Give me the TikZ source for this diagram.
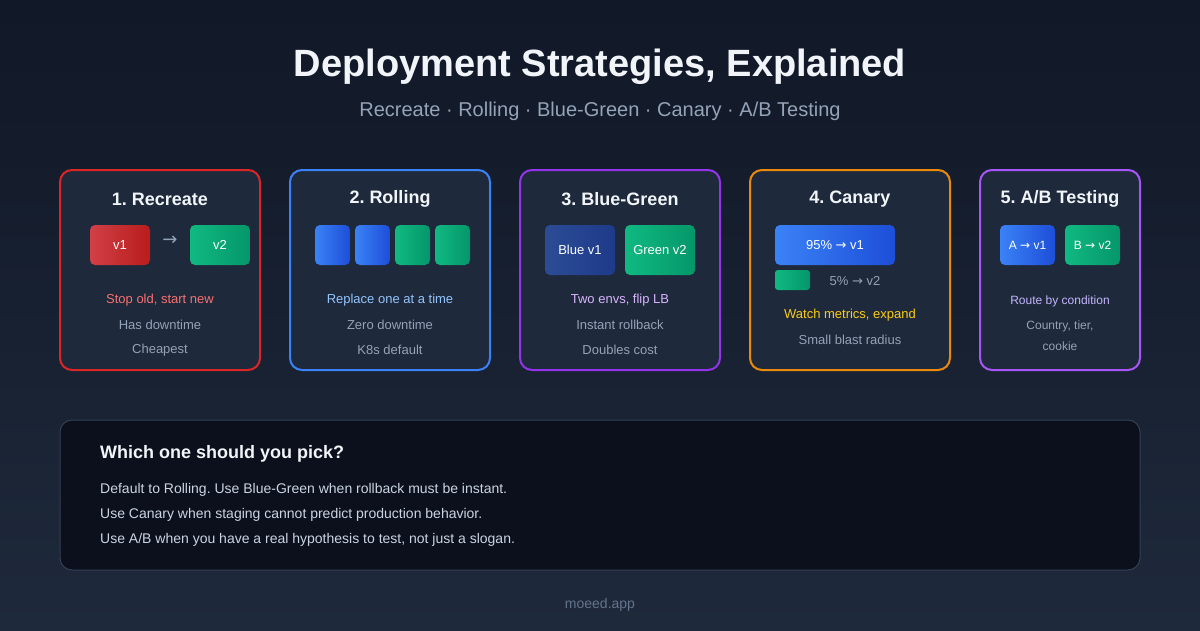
\documentclass[tikz,border=0pt]{standalone}
\usepackage{fontspec}
\setmainfont{Liberation Sans}
\newfontfamily\arr{DejaVu Sans}
\frenchspacing
\definecolor{cardbg}{HTML}{1E293B}
\definecolor{titlec}{HTML}{F1F5F9}
\definecolor{greyc}{HTML}{94A3B8}
\definecolor{redc}{HTML}{DC2626}
\definecolor{bluec}{HTML}{3B82F6}
\definecolor{purc}{HTML}{9333EA}
\definecolor{orc}{HTML}{EA8A0C}
\definecolor{purc2}{HTML}{A855F7}
\definecolor{bgtop}{HTML}{111827}
\definecolor{bgbot}{HTML}{1E293B}
\definecolor{redA}{HTML}{D04046}
\definecolor{redB}{HTML}{B91C1C}
\definecolor{grA}{HTML}{10B981}
\definecolor{grB}{HTML}{059669}
\definecolor{blA}{HTML}{3B82F6}
\definecolor{blB}{HTML}{1D4ED8}
\definecolor{dbA}{HTML}{2C4C96}
\definecolor{dbB}{HTML}{1E3A8A}
\definecolor{t1c}{HTML}{F87171}
\definecolor{t2c}{HTML}{93C5FD}
\definecolor{t3c}{HTML}{D8B4FE}
\definecolor{t4c}{HTML}{FACC15}
\definecolor{t5c}{HTML}{C4B5FD}
\definecolor{panelbg}{HTML}{0B101C}
\definecolor{panelbd}{HTML}{334155}
\definecolor{ptext}{HTML}{CBD5E1}
\definecolor{footc}{HTML}{64748B}
\newcommand\ra{{\arr\char"2192}}
\begin{document}
\begin{tikzpicture}[x=1pt,y=-1pt,
 card/.style={draw=#1,line width=2pt,rounded corners=12pt,fill=cardbg},
 ttl/.style={font=\fontsize{18}{20}\selectfont\bfseries,text=titlec},
 txt/.style={font=\fontsize{13}{15}\selectfont,text=greyc},
 box/.style={text=white,font=\fontsize{13}{15}\selectfont,inner sep=0pt},
 rb/.style={rounded corners=5pt,left color=redA,right color=redB},
 gb/.style={rounded corners=5pt,left color=grA,right color=grB},
 bb/.style={rounded corners=5pt,left color=blA,right color=blB},
 db/.style={rounded corners=5pt,left color=dbA,right color=dbB},
 ptx/.style={anchor=west,inner sep=0pt,font=\fontsize{14}{16}\selectfont,text=ptext},
]
\useasboundingbox (0,0) rectangle (1200,630);
\shade[top color=bgtop,bottom color=bgbot] (0,0) rectangle (1200,630);
\node[font=\fontsize{38}{42}\selectfont\bfseries,text=titlec] (title) at (600,67) {Deployment Strategies, Explained};
\node[font=\fontsize{20}{24}\selectfont,text=greyc] (sub) at (600,111) {Recreate · Rolling · Blue-Green · Canary · A/B Testing};
% cards
\draw[card=redc] (60,170) rectangle (260,370);
\draw[card=bluec] (290,170) rectangle (490,370);
\draw[card=purc] (520,170) rectangle (720,370);
\draw[card=orc] (750,170) rectangle (950,370);
\draw[card=purc2] (980,170) rectangle (1140,370);
% card 1
\node[ttl] (t1) at (160,199) {1. Recreate};
\shade[rb] (90,225) rectangle (150,265);
\node[box] (a1) at (120,245) {v1};
\shade[gb] (190,225) rectangle (250,265);
\node[box] (a2) at (220,245) {v2};
\node[font=\fontsize{18}{20}\selectfont,text=greyc] (ar) at (170,241) {\ra};
\node[txt,text=t1c] (l11) at (160,300) {Stop old, start new};
\node[txt] (l12) at (160,325) {Has downtime};
\node[txt] (l13) at (160,350) {Cheapest};
% card 2
\node[ttl] (t2) at (390,199) {2. Rolling};
\foreach \x in {315,355}{\shade[bb] (\x,225) rectangle (\x+35,265);}
\foreach \x in {395,435}{\shade[gb] (\x,225) rectangle (\x+35,265);}
\node[txt,text=t2c] (l21) at (390,300) {Replace one at a time};
\node[txt] (l22) at (390,325) {Zero downtime};
\node[txt] (l23) at (390,350) {K8s default};
% card 3
\node[ttl] (t3) at (620,199) {3. Blue-Green};
\shade[db] (545,225) rectangle (615,275);
\node[box] (b1) at (580,250) {Blue v1};
\shade[gb] (625,225) rectangle (695,275);
\node[box] (b2) at (660,250) {Green v2};
\node[txt,text=t3c] (l31) at (620,300) {Two envs, flip LB};
\node[txt] (l32) at (620,325) {Instant rollback};
\node[txt] (l33) at (620,350) {Doubles cost};
% card 4
\node[ttl] (t4) at (850,199) {4. Canary};
\shade[bb] (775,225) rectangle (895,265);
\node[box] (c1) at (835,245) {95\% \ra{} v1};
\shade[gb,rounded corners=3pt] (775,270) rectangle (810,290);
\node[txt] (c2) at (855,281) {5\% \ra{} v2};
\node[txt,text=t4c] (l41) at (850,315) {Watch metrics, expand};
\node[txt] (l42) at (850,340) {Small blast radius};
% card 5
\node[ttl] (t5) at (1060,199) {5. A/B Testing};
\shade[bb] (1000,225) rectangle (1055,265);
\node[box,font=\fontsize{12}{14}\selectfont] (d1) at (1027.5,245) {A \ra{} v1};
\shade[gb] (1065,225) rectangle (1120,265);
\node[box,font=\fontsize{12}{14}\selectfont] (d2) at (1092.5,245) {B \ra{} v2};
\node[txt,font=\fontsize{12}{14}\selectfont,text=t5c] (l51) at (1060,301) {Route by condition};
\node[txt,font=\fontsize{12}{14}\selectfont] (l52) at (1060,326) {Country, tier,};
\node[txt,font=\fontsize{12}{14}\selectfont] (l53) at (1060,346) {cookie};
% bottom panel
\draw[fill=panelbg,draw=panelbd,line width=1pt,rounded corners=12pt] (60,420) rectangle (1140,570);
\node[anchor=west,inner sep=0pt,font=\fontsize{18}{20}\selectfont\bfseries,text=titlec] (q) at (100,454) {Which one should you pick?};
\node[ptx] (p1) at (100,490) {Default to Rolling. Use Blue-Green when rollback must be instant.};
\node[ptx] (p2) at (100,515) {Use Canary when staging cannot predict production behavior.};
\node[ptx] (p3) at (100,540) {Use A/B when you have a real hypothesis to test, not just a slogan.};
\node[font=\fontsize{14}{16}\selectfont,text=footc] (f) at (600,605) {moeed.app};
\end{tikzpicture}
\end{document}
